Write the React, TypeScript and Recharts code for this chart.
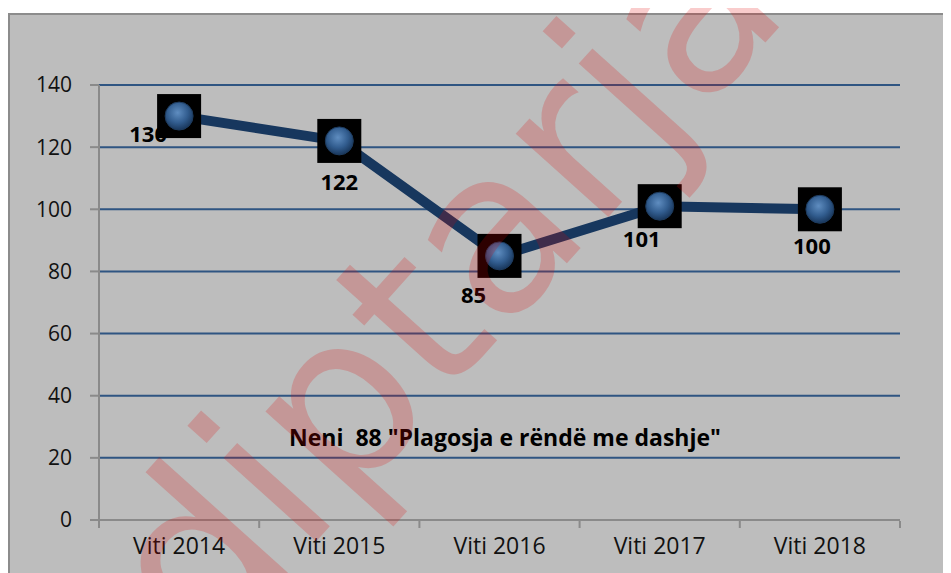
import React from "react";
import { LineChart, Line, XAxis, YAxis, CartesianGrid, LabelList } from "recharts";

// 数据
const years = ["Viti 2014", "Viti 2015", "Viti 2016", "Viti 2017", "Viti 2018"];
const cases = [130, 122, 85, 101, 100];
const yTicks = [0, 20, 40, 60, 80, 100, 120, 140];
const chartTitle = 'Neni  88 "Plagosja e rëndë me dashje"';
const watermark = "diptarja";

// 标签偏移（相对于数据点）
const labelOffsets = [
  { dx: -31, dy: 17 },
  { dx: 0, dy: 40 },
  { dx: -26, dy: 38 },
  { dx: -18, dy: 32 },
  { dx: -8, dy: 36 },
];

const W = 943;
const H = 560;
const margin = { top: 72, right: 51, left: 0, bottom: 13 };
const yAxisWidth = 91;
const plotWidth = W - margin.left - margin.right - yAxisWidth;
const halfBand = plotWidth / years.length / 2;

const font = "'Open Sans', 'Liberation Sans', sans-serif";

const data = years.map((year, i) => ({ year, value: cases[i] }));

function Marker(props: any) {
  const { cx, cy } = props;
  if (cx == null || cy == null) return null;
  return (
    <g>
      <rect x={cx - 22} y={cy - 22} width={44} height={44} fill="#000" />
      <circle cx={cx} cy={cy} r={14} fill="url(#sphere)" stroke="#1d3b5e" strokeWidth={1} />
    </g>
  );
}

function XTick(props: any) {
  const { x, y, payload, index } = props;
  return (
    <g>
      <line x1={x - halfBand} y1={y - 7} x2={x - halfBand} y2={y} stroke="#8a8a8a" strokeWidth={2} />
      {index === years.length - 1 && (
        <line x1={x + halfBand} y1={y - 7} x2={x + halfBand} y2={y} stroke="#8a8a8a" strokeWidth={2} />
      )}
      <text x={x} y={y + 26} textAnchor="middle" fill="#111" fontSize={23} fontFamily={font}>
        {payload.value}
      </text>
    </g>
  );
}

function ValueLabel(props: any) {
  const { x, y, value, index } = props;
  const off = labelOffsets[index] || { dx: 0, dy: 30 };
  return (
    <text
      x={x + off.dx}
      y={y + off.dy}
      textAnchor="middle"
      dominantBaseline="central"
      fill="#000"
      fontSize={22}
      fontWeight={700}
      fontFamily={font}
    >
      {value}
    </text>
  );
}

export default function App() {
  return (
    <div
      style={{
        position: "relative",
        marginTop: 5,
        width: W,
        height: H,
        background: "#bdbdbd",
        borderTop: "2px solid #8c8c8c",
        borderLeft: "2px solid #8c8c8c",
        boxSizing: "border-box",
        overflow: "visible",
      }}
    >
      <div style={{ position: "absolute", left: -2, top: -2 }}>
        <LineChart width={W} height={H} data={data} margin={margin}>
          <defs>
            <radialGradient id="sphere" cx="45%" cy="38%" r="60%">
              <stop offset="0%" stopColor="#5f8dc0" />
              <stop offset="60%" stopColor="#325d8f" />
              <stop offset="100%" stopColor="#1b3a60" />
            </radialGradient>
          </defs>
          <CartesianGrid vertical={false} stroke="#2f5582" strokeWidth={2} />
          <XAxis
            dataKey="year"
            height={40}
            padding={{ left: halfBand, right: halfBand }}
            axisLine={{ stroke: "#8a8a8a", strokeWidth: 2 }}
            tickLine={false}
            tick={<XTick />}
            interval={0}
          />
          <YAxis
            width={yAxisWidth}
            domain={[0, 140]}
            ticks={yTicks}
            axisLine={{ stroke: "#8a8a8a", strokeWidth: 2 }}
            tickLine={{ stroke: "#8a8a8a", strokeWidth: 2 }}
            tickSize={9}
            tickMargin={18}
            tick={{ fill: "#111", fontSize: 21, fontFamily: font }}
          />
          {/* 标签层（在标记下方） */}
          <Line
            dataKey="value"
            stroke="none"
            dot={false}
            activeDot={false}
            isAnimationActive={false}
          >
            <LabelList dataKey="value" content={<ValueLabel />} />
          </Line>
          <Line
            dataKey="value"
            type="linear"
            stroke="#17375e"
            strokeWidth={10}
            dot={<Marker />}
            activeDot={false}
            isAnimationActive={false}
          />
        </LineChart>
      </div>

      {/* 图内标题 */}
      <div
        style={{
          position: "absolute",
          left: 503 - 8 - 300,
          top: 437 - 13 - 2 - 16,
          width: 600,
          textAlign: "center",
          fontFamily: font,
          fontWeight: 700,
          fontSize: 23,
          lineHeight: "32px",
          whiteSpace: "pre",
          color: "#000",
        }}
      >
        {chartTitle}
      </div>

      {/* 水印 */}
      <svg
        width={951}
        height={573}
        style={{ position: "absolute", left: -10, top: -15, pointerEvents: "none" }}
      >
        <text
          x={205}
          y={665}
          transform="rotate(-48 205 665)"
          fontFamily="'DejaVu Sans', sans-serif"
          fontSize={228}
          fill="#e00000"
          fillOpacity={0.2}
        >
          {watermark}
        </text>
      </svg>
    </div>
  );
}
